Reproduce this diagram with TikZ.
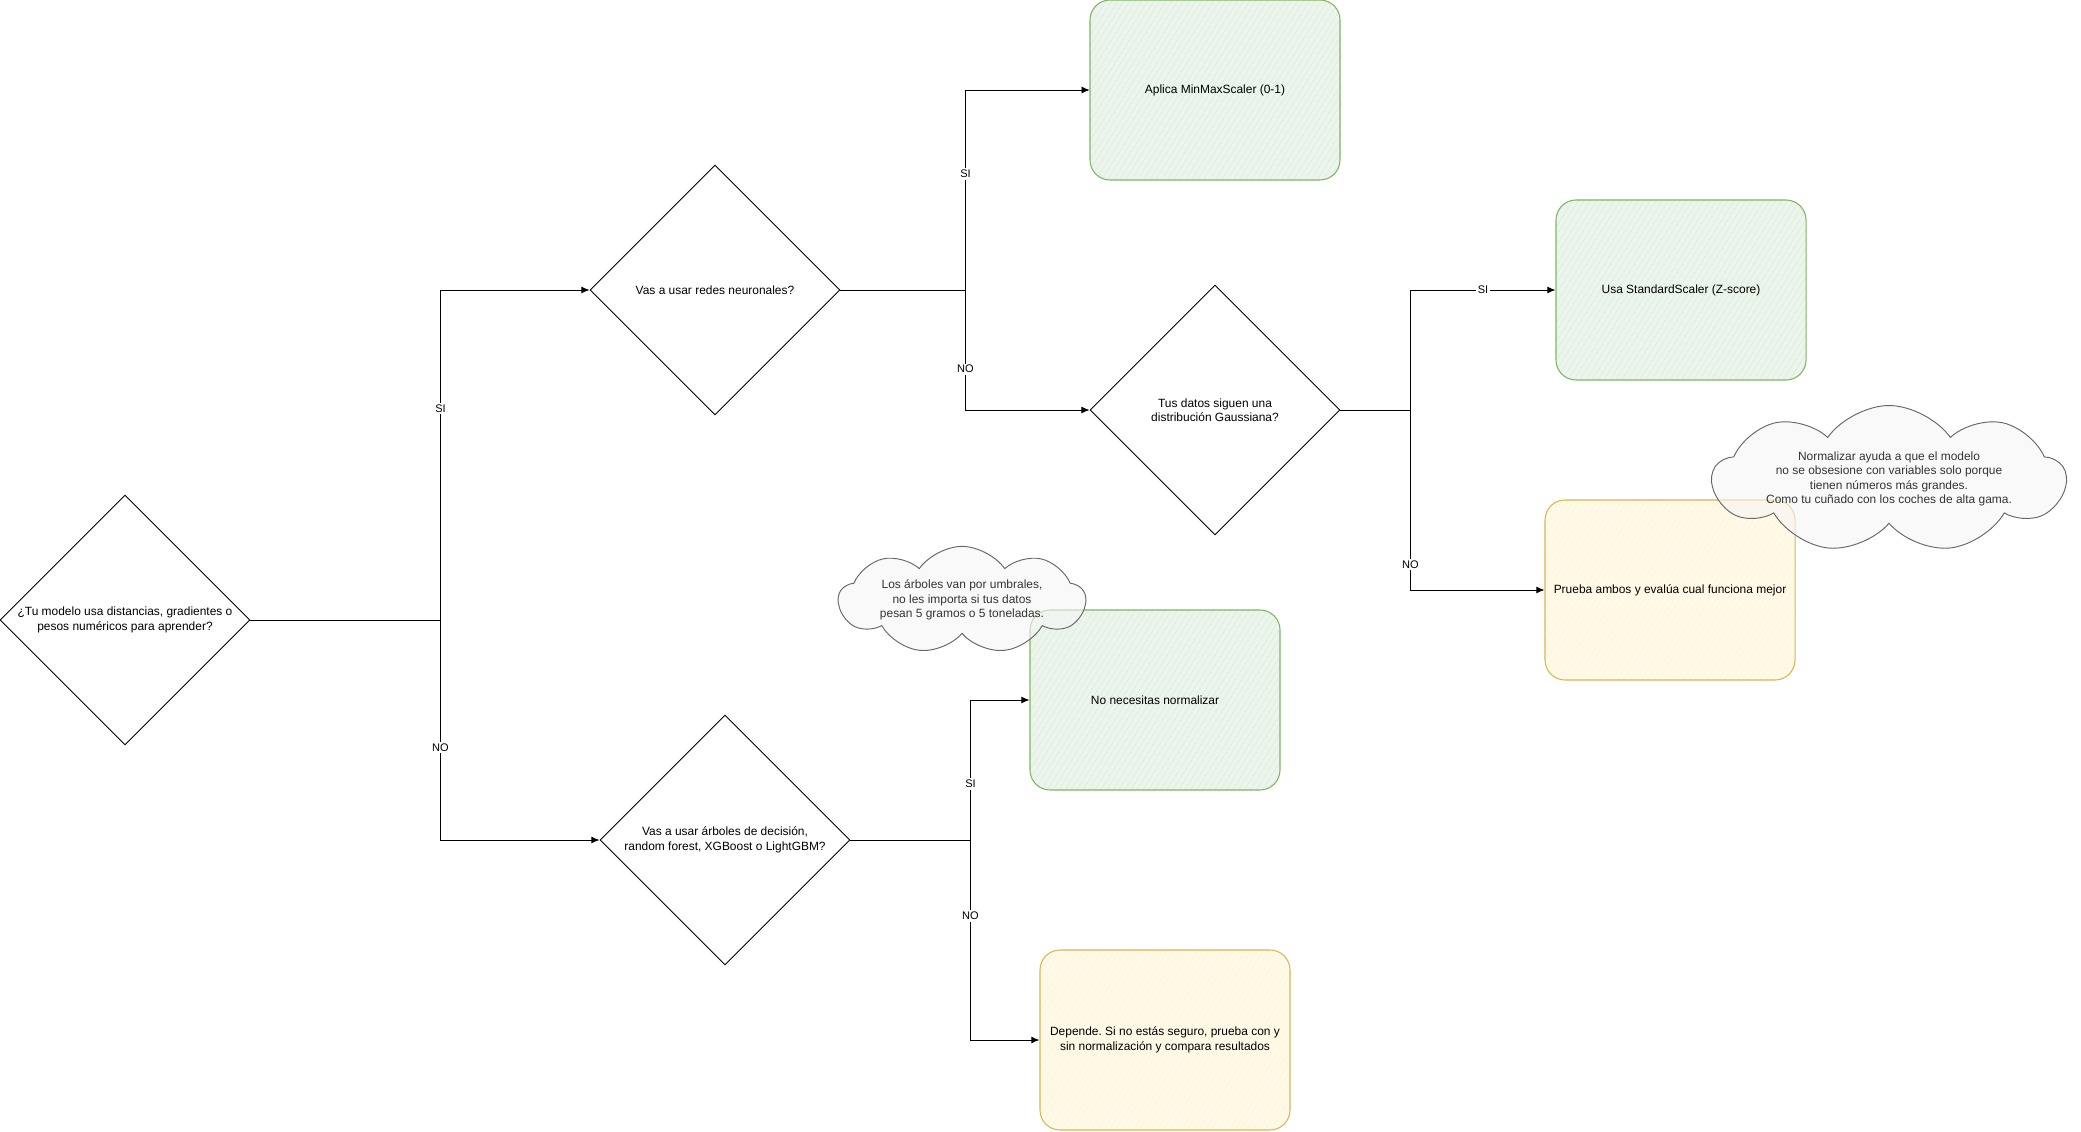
\documentclass[tikz,border=0pt]{standalone}
\usepackage{fontspec}
\setmainfont{Liberation Sans}
\frenchspacing
\usetikzlibrary{shapes.geometric, shapes.symbols, arrows.meta, patterns.meta}

\definecolor{greenline}{HTML}{82B366}
\definecolor{greenfill}{HTML}{D5E8D4}
\definecolor{yellowline}{HTML}{D6B656}
\definecolor{yellowfill}{HTML}{FFF2CC}
\definecolor{cloudline}{HTML}{666666}
\definecolor{cloudfill}{HTML}{F5F5F5}
\definecolor{cloudtext}{HTML}{333333}

\begin{document}
\begin{tikzpicture}[
    x=0.03cm, y=-0.03cm,
    every node/.style={font=\fontsize{10.2}{12.4}\selectfont, align=center},
    >={Latex[length=7pt,width=6pt]},
    decision/.style={draw, diamond, minimum width=7.5cm, minimum height=7.5cm,
        inner sep=0pt, line width=0.8pt},
    greenbox/.style={draw=greenline, line width=0.9pt, rounded corners=0.6cm,
        minimum width=7.5cm, minimum height=5.4cm,
        preaction={fill=greenfill!45},
        pattern={Lines[angle=58, distance=4pt, line width=0.5pt]}, pattern color=greenfill},
    yellowbox/.style={draw=yellowline, line width=0.9pt, rounded corners=0.6cm,
        minimum width=7.5cm, minimum height=5.4cm,
        preaction={fill=yellowfill!45},
        pattern={Lines[angle=58, distance=4pt, line width=0.5pt]}, pattern color=yellowfill},
    note/.style={draw=cloudline, cloud, cloud puffs=9, cloud puff arc=110,
        cloud ignores aspect, line width=0.8pt, text=cloudtext,
        fill=cloudfill, fill opacity=0.6, text opacity=1},
    flow/.style={->, line width=0.8pt},
    lbl/.style={fill=white, inner sep=1.5pt, font=\fontsize{9.4}{11}\selectfont}
]
\useasboundingbox (0,0) rectangle (2081,1132);

% --- Questions ---
\node[decision] (modelo) at (125,620)
    {¿Tu modelo usa distancias, gradientes o\\pesos numéricos para aprender?};
\node[decision] (redes) at (715,290) {Vas a usar redes neuronales?};
\node[decision] (gauss) at (1215,410) {Tus datos siguen una\\distribución Gaussiana?};
\node[decision] (arboles) at (725,840)
    {Vas a usar árboles de decisión,\\random forest, XGBoost o LightGBM?};

% --- Answers ---
\node[greenbox] (minmax) at (1215,90) {Aplica MinMaxScaler (0-1)};
\node[greenbox] (standard) at (1681,290) {Usa StandardScaler (Z-score)};
\node[yellowbox] (ambos) at (1670,590) {Prueba ambos y evalúa cual funciona mejor};
\node[greenbox] (nonorm) at (1155,700) {No necesitas normalizar};
\node[yellowbox] (depende) at (1165,1040)
    {Depende. Si no estás seguro, prueba con y\\sin normalización y compara resultados};

% --- Connectors ---
\draw[flow] (modelo.east) -- ++(190,0) |- (redes.west) node[lbl, pos=0.32] {SI};
\draw[flow] (modelo.east) -- ++(190,0) |- (arboles.west) node[lbl, pos=0.29] {NO};
\draw[flow] (redes.east) -- ++(125,0) |- (minmax.west) node[lbl, pos=0.29] {SI};
\draw[flow] (redes.east) -- ++(125,0) |- (gauss.west) node[lbl, pos=0.33] {NO};
\draw[flow] (gauss.east) -- ++(70,0) |- (standard.west) node[lbl, pos=0.75] {SI};
\draw[flow] (gauss.east) -- ++(70,0) |- (ambos.west) node[lbl, pos=0.43] {NO};
\draw[flow] (arboles.east) -- ++(120,0) |- (nonorm.west) node[lbl, pos=0.2] {SI};
\draw[flow] (arboles.east) -- ++(120,0) |- (depende.west) node[lbl, pos=0.19] {NO};

% --- Notes ---
\node[note, minimum width=10.4cm, minimum height=3.5cm] (nota1) at (1889,479)
    {Normalizar ayuda a que el modelo\\no se obsesione con variables solo porque\\tienen números más grandes.\\Como tu cuñado con los coches de alta gama.};
\node[note, minimum width=7.4cm, minimum height=2.5cm] (nota2) at (962,600)
    {Los árboles van por umbrales,\\no les importa si tus datos\\pesan 5 gramos o 5 toneladas.};

\end{tikzpicture}
\end{document}
